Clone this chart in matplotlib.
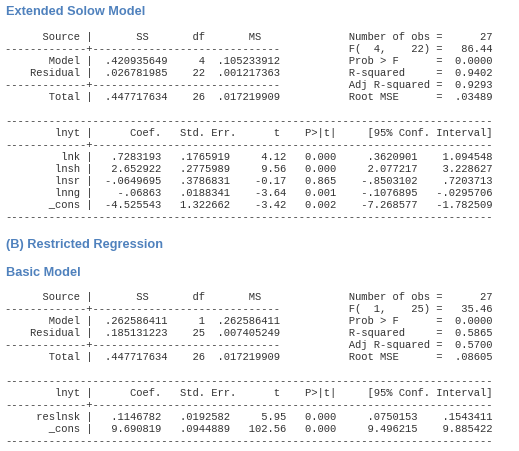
import matplotlib
matplotlib.use("Agg")
import matplotlib.pyplot as plt

W, H = 519, 452
fig = plt.figure(figsize=(W/100, H/100), dpi=100)
fig.patch.set_facecolor("white")

# ---- data ----
m1_anova = [("Model", ".420935649", "4", ".105233912"),
            ("Residual", ".026781985", "22", ".001217363"),
            ("Total", ".447717634", "26", ".017219909")]
m1_stats = ["27", "86.44", "0.0000", "0.9402", "0.9293", ".03489"]
m1_F = ("4", "22")
m1_vars = ["lnk", "lnsh", "lnsr", "lnng", "_cons"]
m1_coef = [".7283193", "2.652922", "-.0649695", "-.06863", "-4.525543"]
m1_se = [".1765919", ".2775989", ".3786831", ".0188341", "1.322662"]
m1_t = ["4.12", "9.56", "-0.17", "-3.64", "-3.42"]
m1_p = ["0.000", "0.000", "0.865", "0.001", "0.002"]
m1_lo = [".3620901", "2.077217", "-.8503102", "-.1076895", "-7.268577"]
m1_hi = ["1.094548", "3.228627", ".7203713", "-.0295706", "-1.782509"]

m2_anova = [("Model", ".262586411", "1", ".262586411"),
            ("Residual", ".185131223", "25", ".007405249"),
            ("Total", ".447717634", "26", ".017219909")]
m2_stats = ["27", "35.46", "0.0000", "0.5865", "0.5700", ".08605"]
m2_F = ("1", "25")
m2_vars = ["reslnsk", "_cons"]
m2_coef = [".1146782", "9.690819"]
m2_se = [".0192582", ".0944889"]
m2_t = ["5.95", "102.56"]
m2_p = ["0.000", "0.000"]
m2_lo = [".0750153", "9.496215"]
m2_hi = [".1543411", "9.885422"]

titles = ["Extended Solow Model", "(B) Restricted Regression", "Basic Model"]

def anova_lines(anova, stats, F):
    L = []
    L.append("      Source |       SS       df       MS              Number of obs = " + stats[0].rjust(7))
    L.append("-------------+------------------------------           F(" + F[0].rjust(3) + "," + F[1].rjust(6) + ") = " + stats[1].rjust(7))
    labs = ["Prob > F      = ", "R-squared     = ", "Adj R-squared = ", "Root MSE      = "]
    rows = [anova[0], anova[1], None, anova[2]]
    for i, r in enumerate(rows):
        if r is None:
            left = "-------------+------------------------------"
        else:
            left = r[0].rjust(12) + " | " + r[1].rjust(11) + r[2].rjust(6) + r[3].rjust(12)
        L.append(left.ljust(55) + labs[i] + stats[2 + i].rjust(7))
    return L

def coef_lines(vars_, coef, se, t, p, lo, hi):
    L = ["-" * 78,
         "        lnyt |      Coef.   Std. Err.      t    P>|t|     [95% Conf. Interval]",
         "-------------+" + "-" * 64]
    for i in range(len(vars_)):
        L.append(vars_[i].rjust(12) + " | " + coef[i].rjust(10) + se[i].rjust(11)
                 + t[i].rjust(9) + p[i].rjust(8) + lo[i].rjust(13) + hi[i].rjust(12))
    L.append("-" * 78)
    return L

mono = dict(family="Liberation Mono", fontsize=7.6, color="#333333", va="center", ha="left")
ttl = dict(family="Liberation Sans", fontsize=9.2, fontweight="bold", color="#4F81BD", va="center", ha="left")
x0 = 5 / W
dy = 12.05

def put_lines(lines, y0):
    for i, s in enumerate(lines):
        fig.text(x0, 1 - (y0 + i * dy) / H, s, **mono)

fig.text(6 / W, 1 - 12 / H, titles[0], **ttl)
put_lines(anova_lines(m1_anova, m1_stats, m1_F), 37)
put_lines(coef_lines(m1_vars, m1_coef, m1_se, m1_t, m1_p, m1_lo, m1_hi), 121)
fig.text(6 / W, 1 - 245 / H, titles[1], **ttl)
fig.text(6 / W, 1 - 273 / H, titles[2], **ttl)
put_lines(anova_lines(m2_anova, m2_stats, m2_F), 297)
put_lines(coef_lines(m2_vars, m2_coef, m2_se, m2_t, m2_p, m2_lo, m2_hi), 381)

fig.savefig("out.png", dpi=100)
